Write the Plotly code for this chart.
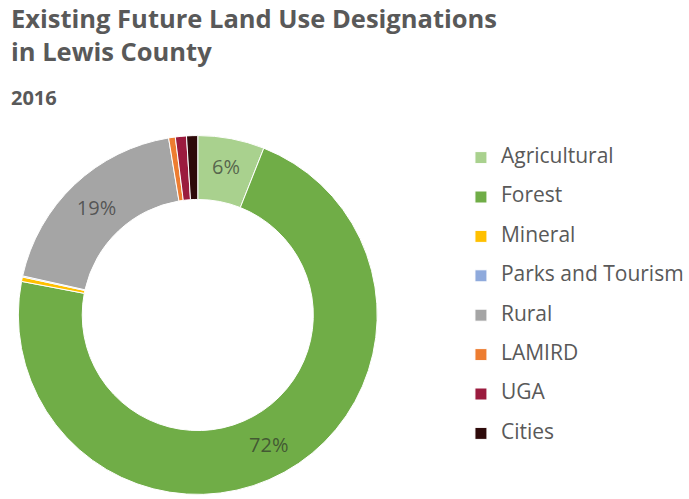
import plotly.graph_objects as go

categories = ["Agricultural", "Forest", "Mineral", "Parks and Tourism", "Rural", "LAMIRD", "UGA", "Cities"]
shares = [6.0, 72.0, 0.4, 0.1, 18.9, 0.6, 1.0, 1.0]
colors = ["#a9d18e", "#70ad47", "#ffc000", "#8faadc", "#a5a5a5", "#ed7d31", "#9b1b3e", "#2e0a0a"]
label_texts = [f"{round(v)}%" if v >= 5 else "" for v in shares]

W, H = 689, 499


def fx(x):
    return x / W


def fy(y):
    return 1 - y / H


cx, cy, r = 199.5, 315, 181

fig = go.Figure(go.Pie(
    labels=[f"<span style='font-size:21px'>{c}</span><br>&nbsp;" for c in categories],
    values=shares,
    text=label_texts,
    textinfo="text",
    textposition="inside",
    insidetextorientation="horizontal",
    insidetextfont=dict(family="Open Sans", size=20, color="rgba(40,40,40,0.65)"),
    marker=dict(colors=colors, line=dict(color="white", width=1)),
    sort=False,
    direction="clockwise",
    rotation=0,
    hole=0.644,
    domain=dict(x=[fx(cx - r), fx(cx + r)], y=[fy(cy + r), fy(cy - r)]),
    hoverinfo="skip",
))

fig.update_layout(
    width=W, height=H,
    margin=dict(l=0, r=0, t=0, b=0),
    paper_bgcolor="white",
    plot_bgcolor="white",
    annotations=[
        dict(
            text="Existing Future Land Use Designations<br>in Lewis County",
            x=fx(9), y=fy(-1.5), xref="paper", yref="paper",
            xanchor="left", yanchor="top", align="left", showarrow=False,
            font=dict(family="Open Sans", size=25.5, color="#595959", weight=700),
        ),
        dict(
            text="2016", x=fx(9), y=fy(82), xref="paper", yref="paper",
            xanchor="left", yanchor="top", showarrow=False,
            font=dict(family="Open Sans", size=20, color="#595959", weight=700),
        ),
    ],
    legend=dict(
        x=fx(465), xanchor="left", y=fy(142), yanchor="top",
        font=dict(family="Open Sans", size=14, color="#595959"),
        valign="top",
        bgcolor="rgba(0,0,0,0)",
    ),
    showlegend=True,
)

fig.write_html("out.html", config={"displayModeBar": False},
               post_script="document.body.style.margin='0';")
